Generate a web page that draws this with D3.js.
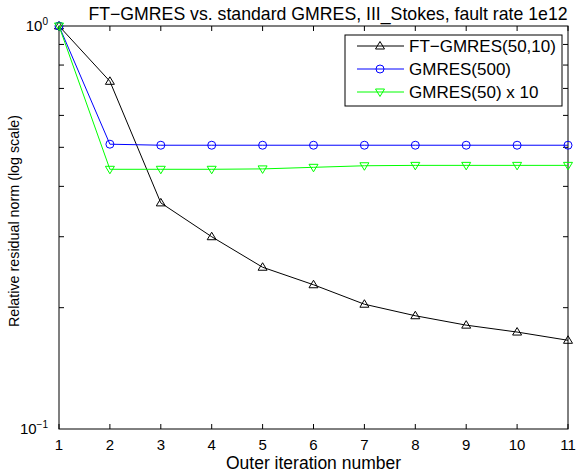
<!DOCTYPE html>
<html lang="en">
<head>
    <meta charset="UTF-8">
    <title>FT-GMRES vs. standard GMRES</title>
    <script src="https://d3js.org/d3.v7.min.js"></script>
    <style>
        body { margin: 0; background: #fff; }
        svg text { font-family: "Liberation Sans", Arial, Helvetica, sans-serif; fill: #000; }
    </style>
</head>
<body>
    <svg id="chart" width="576" height="473"></svg>
    <script>
        // Données
        const iterations = [1, 2, 3, 4, 5, 6, 7, 8, 9, 10, 11];
        const ftGmres = [1.0, 0.729, 0.364, 0.300, 0.252, 0.228, 0.204, 0.191, 0.181, 0.174, 0.166];
        const gmres500 = [1.0, 0.509, 0.506, 0.506, 0.506, 0.506, 0.506, 0.506, 0.506, 0.506, 0.506];
        const gmres50x10 = [1.0, 0.441, 0.441, 0.441, 0.442, 0.446, 0.450, 0.451, 0.451, 0.451, 0.451];
        const seriesNames = ["FT\u2212GMRES(50,10)", "GMRES(500)", "GMRES(50) x 10"];
        const seriesColors = ["#000000", "#0000ff", "#00ff00"];
        const seriesMarkers = ["up", "circle", "down"];
        const xTicks = [1, 2, 3, 4, 5, 6, 7, 8, 9, 10, 11];
        const yMinorTicks = [0.2, 0.3, 0.4, 0.5, 0.6, 0.7, 0.8, 0.9];

        const margin = { top: 26, right: 8, bottom: 44, left: 59 };
        const width = 576 - margin.left - margin.right;
        const height = 473 - margin.top - margin.bottom;

        const svg = d3.select("#chart")
            .append("g")
            .attr("transform", `translate(${margin.left},${margin.top})`);

        const x = d3.scaleLinear().domain([1, 11]).range([0, width]);
        const y = d3.scaleLog().domain([0.1, 1]).range([height, 0]);

        const tickLen = 5;

        // Cadre
        svg.append("rect")
            .attr("width", width).attr("height", height)
            .attr("fill", "none").attr("stroke", "#000").attr("stroke-width", 1);

        // Graduations x (bas et haut, vers l'intérieur)
        xTicks.forEach(t => {
            svg.append("line").attr("x1", x(t)).attr("x2", x(t))
                .attr("y1", height).attr("y2", height - tickLen).attr("stroke", "#000");
            svg.append("line").attr("x1", x(t)).attr("x2", x(t))
                .attr("y1", 0).attr("y2", tickLen).attr("stroke", "#000");
            svg.append("text")
                .attr("x", x(t)).attr("y", height + 21)
                .attr("text-anchor", "middle")
                .attr("font-size", "15px")
                .text(t);
        });

        // Graduations y mineures (gauche et droite)
        yMinorTicks.forEach(t => {
            svg.append("line").attr("x1", 0).attr("x2", tickLen)
                .attr("y1", y(t)).attr("y2", y(t)).attr("stroke", "#000");
            svg.append("line").attr("x1", width).attr("x2", width - tickLen)
                .attr("y1", y(t)).attr("y2", y(t)).attr("stroke", "#000");
        });

        // Étiquettes 10^0 et 10^-1
        [[1, "0"], [0.1, "\u22121"]].forEach(([v, e]) => {
            const t = svg.append("text")
                .attr("x", -11).attr("y", y(v) + 5)
                .attr("text-anchor", "end")
                .attr("font-size", "15px");
            t.append("tspan").text("10");
            t.append("tspan").attr("dy", -6).attr("font-size", "10px").text(e);
        });

        // Titres
        svg.append("text")
            .attr("x", 328 - margin.left).attr("y", -6)
            .attr("text-anchor", "middle")
            .attr("font-size", "17.7px")
            .text("FT\u2212GMRES vs. standard GMRES, III_Stokes, fault rate 1e12");

        svg.append("text")
            .attr("x", width / 2).attr("y", height + 40)
            .attr("text-anchor", "middle")
            .attr("font-size", "17.5px")
            .text("Outer iteration number");

        svg.append("text")
            .attr("transform", `translate(${-40},${221 - margin.top}) rotate(-90)`)
            .attr("text-anchor", "middle")
            .attr("font-size", "14.3px")
            .text("Relative residual norm (log scale)");

        // Symboles
        function drawMarker(g, kind, cx, cy, color) {
            if (kind === "circle") {
                g.append("circle").attr("cx", cx).attr("cy", cy).attr("r", 4)
                    .attr("fill", "none").attr("stroke", color);
            } else {
                const s = kind === "up" ? 1 : -1;
                const pts = [[cx, cy - 4.5 * s], [cx - 4.5, cy + 3 * s], [cx + 4.5, cy + 3 * s]];
                g.append("path").attr("d", "M" + pts.join("L") + "Z")
                    .attr("fill", "none").attr("stroke", color);
            }
        }

        const allSeries = [ftGmres, gmres500, gmres50x10];
        const line = d3.line().x((d, i) => x(iterations[i])).y(d => y(d));

        // Ordre de tracé : noir, bleu, vert (vert au-dessus)
        allSeries.forEach((vals, k) => {
            const g = svg.append("g");
            g.append("path").datum(vals)
                .attr("d", line)
                .attr("fill", "none")
                .attr("stroke", seriesColors[k])
                .attr("stroke-width", 1);
            vals.forEach((v, i) => drawMarker(g, seriesMarkers[k], x(iterations[i]), y(v), seriesColors[k]));
        });

        // Légende
        const legend = svg.append("g").attr("transform", `translate(${345 - margin.left},${35 - margin.top})`);
        legend.append("rect")
            .attr("width", 217).attr("height", 71)
            .attr("fill", "#fff").attr("stroke", "#000");
        seriesNames.forEach((name, k) => {
            const ly = 11 + k * 23;
            legend.append("line").attr("x1", 12).attr("x2", 59)
                .attr("y1", ly).attr("y2", ly).attr("stroke", seriesColors[k]);
            drawMarker(legend, seriesMarkers[k], 35, ly, seriesColors[k]);
            legend.append("text")
                .attr("x", 64).attr("y", ly + 6)
                .attr("font-size", "17px")
                .text(name);
        });
    </script>
</body>
</html>
